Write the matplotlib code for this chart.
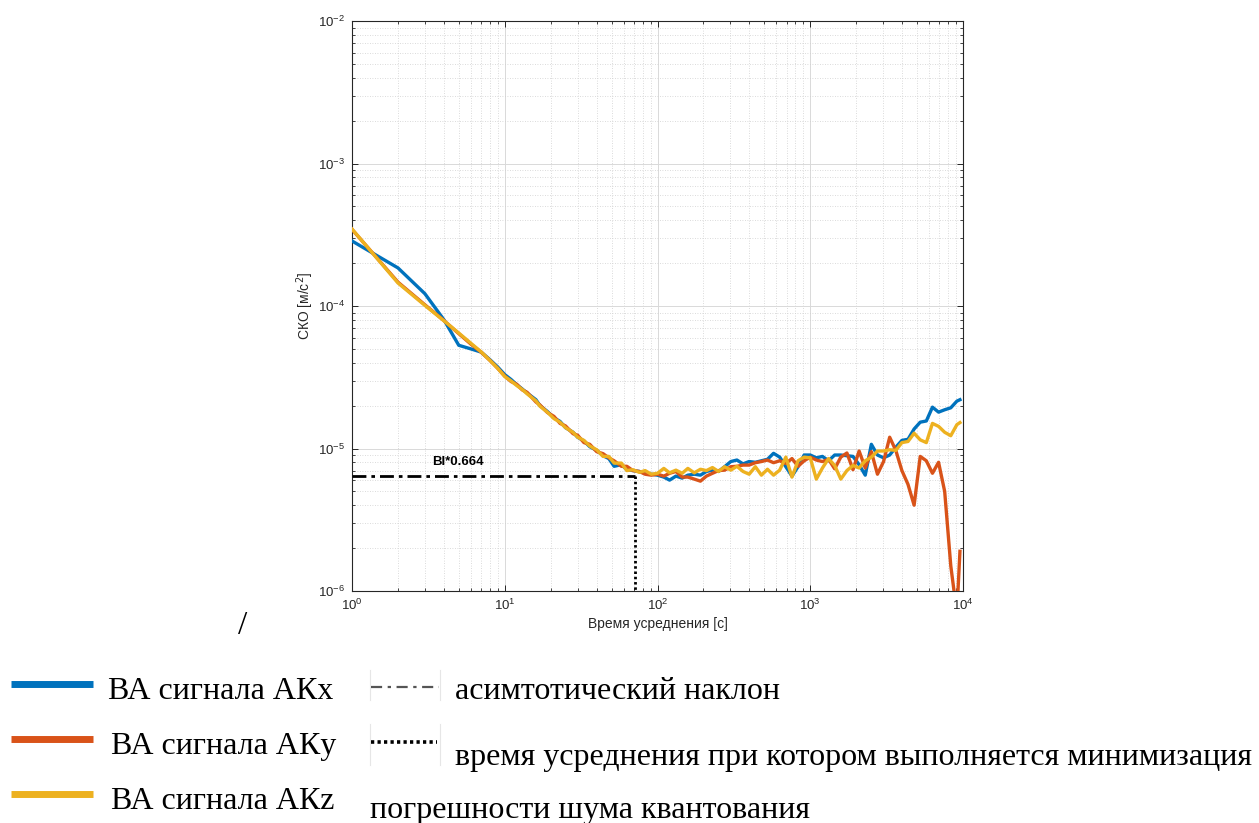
import matplotlib
matplotlib.use("Agg")
import matplotlib.pyplot as plt
from matplotlib.lines import Line2D
from matplotlib.ticker import LogLocator, NullFormatter

# averaging time, s
tau = [1, 2, 3, 4, 5, 6, 7, 8, 9,
       10, 11, 12, 13, 14, 16, 17, 19, 21, 23, 25, 28, 30, 33, 36, 40, 44, 48, 52, 58, 63, 69, 76, 83, 91,
       100, 110, 120, 132, 145, 158, 174, 191, 209, 229, 251, 275, 302, 331, 363, 398, 437, 479, 525, 575,
       631, 692, 759, 832, 912,
       1000, 1096, 1202, 1318, 1445, 1585, 1738, 1905, 2089, 2291, 2512, 2754, 3020, 3311, 3631, 3981,
       4365, 4786, 5248, 5754, 6310, 6918, 7586, 8318, 9120, 9550]

# Allan deviation, 1e-6 m/s^2
akx = [286, 185, 122, 80, 53, 50, 47.5, 42, 37.3,
       33, 30.5, 28, 26.2, 24.5, 22, 20, 18.2, 16.4, 15.5, 14, 13, 12, 11.3, 10.3, 9.7, 8.9, 8.5, 7.5, 7.7,
       7.1, 7.0, 6.9, 6.7, 6.6,
       6.5, 6.3, 6.0, 6.4, 6.2, 6.5, 6.6, 6.5, 6.9, 7.05, 6.9, 7.45, 8.1, 8.3, 7.8, 8.1, 8.0, 8.2, 8.4, 9.25,
       8.7, 7.45, 6.4, 7.45, 9.0,
       9.0, 8.6, 8.8, 8.2, 9.0, 9.0, 8.9, 8.8, 7.7, 6.5, 10.7, 9.0, 8.6, 9.0, 10.2, 11.4, 11.6, 13.7, 15.3,
       15.6, 19.5, 18.0, 18.7, 19.3, 21.5, 22.0]
aky = [345, 147, 102, 79, 64, 54, 47.5, 41.5, 36.5,
       32.2, 29.5, 28.2, 25.8, 24.8, 21.2, 20.2, 17.9, 16.8, 15.0, 14.4, 12.7, 12.4, 11.0, 10.7, 9.5, 9.2,
       8.6, 8.2, 7.5, 7.5, 7.0, 6.9, 6.6, 6.5,
       6.6, 6.4, 6.7, 6.9, 6.3, 6.3, 6.1, 5.9, 6.4, 6.7, 7.0, 7.05, 7.45, 7.5, 7.65, 7.65, 7.95, 8.1, 8.3,
       7.95, 8.2, 7.85, 8.5, 7.5, 8.2,
       8.7, 8.3, 8.1, 8.4, 7.2, 8.7, 9.3, 7.1, 9.6, 7.3, 9.5, 6.6, 8.1, 12.0, 9.7, 7.0, 5.6, 4.0, 8.8,
       8.2, 6.7, 8.0, 5.0, 1.5, 0.7, 1.9]
akz = [347, 145, 101, 78.7, 64.6, 54.8, 47.7, 41.5, 36.5,
       32, 29.8, 27.6, 26, 24.2, 21.6, 19.8, 18, 16.2, 15.3, 14, 13, 12, 11.4, 10.4, 9.8, 8.8, 8.8, 7.9,
       7.9, 7.0, 7.1, 6.8, 7.0, 6.6,
       6.7, 7.25, 6.75, 7.05, 6.7, 7.25, 6.75, 7.15, 7.0, 7.35, 6.9, 7.45, 7.05, 7.5, 6.9, 6.6, 7.45, 6.5,
       7.15, 6.5, 7.05, 8.7, 6.3, 8.2, 8.7,
       8.6, 6.1, 7.3, 8.5, 7.6, 6.1, 7.0, 7.6, 7.3, 8.2, 8.7, 9.6, 9.6, 9.8, 9.7, 11.0, 11.2, 12.8, 11.5,
       11.0, 15.0, 14.3, 13.0, 12.3, 14.7, 15.2]

bi_level = 6.4e-6     # bias instability level
tau_min = 71          # averaging time at the minimum
bi_text = "BI*0.664"

series_labels = ["ВА сигнала АКx", "ВА сигнала АКy", "ВА сигнала АКz"]
series_colors = ["#0072BD", "#D95319", "#EDB120"]
note_labels = ["асимтотический наклон",
               "время усреднения при котором выполняется минимизация",
               "погрешности шума квантования"]

W, H = 1259, 823
plt.rcParams['font.family'] = ['Liberation Sans', 'DejaVu Sans']
plt.rcParams['axes.unicode_minus'] = False
fig = plt.figure(figsize=(W / 100, H / 100), dpi=100)


def fx(x):
    return x / W


def fy(y):
    return 1 - y / H


ax = fig.add_axes([fx(352), fy(591), fx(963) - fx(352), fy(21) - fy(591)])

for vals, col in zip([akx, aky, akz], series_colors):
    ax.plot(tau, [v * 1e-6 for v in vals], color=col, lw=2.4, zorder=3)

ax.plot([1, tau_min], [bi_level, bi_level], color='black', lw=2.0, ls=(0, (5, 1.8, 1.3, 1.8)), zorder=4)
ax.plot([tau_min, tau_min], [bi_level, 1e-6], color='black', lw=2.0, ls=(0, (0.9, 1.0)), zorder=4)
ax.text(3.35, 8.1e-6, bi_text, fontsize=9.5, fontweight='bold', ha='left', va='center')

ax.set_xscale('log')
ax.set_yscale('log')
ax.set_xlim(1, 1e4)
ax.set_ylim(1e-6, 1e-2)
ax.xaxis.set_minor_locator(LogLocator(base=10, subs=range(2, 10), numticks=20))
ax.yaxis.set_minor_locator(LogLocator(base=10, subs=range(2, 10), numticks=20))
ax.xaxis.set_minor_formatter(NullFormatter())
ax.yaxis.set_minor_formatter(NullFormatter())

ax.grid(True, which='major', color='#d9d9d9', lw=0.7, ls='-')
ax.grid(True, which='minor', color='#cfcfcf', lw=0.6, ls=(0, (1, 2)))
ax.set_axisbelow(True)
ax.tick_params(which='both', direction='in', top=True, right=True, colors='#262626', labelsize=9.5)
ax.tick_params(which='major', length=4, width=0.7, pad=5)
ax.tick_params(which='minor', length=2.5, width=0.6)
for s in ax.spines.values():
    s.set_color('#262626')
    s.set_linewidth(0.8)

ax.set_xlabel("Время усреднения [с]", fontsize=10, color='#262626', labelpad=3)
ax.set_ylabel("СКО [м/с$^2$]", fontsize=10, color='#262626')
ax.yaxis.set_label_coords((316 - 352) / 611, 0.5)

# stray slash under the plot
fig.text(fx(243), fy(626), "/", fontsize=24, family='Liberation Serif', ha='center', va='center')

# hand-made legend below the chart
serif = ['Liberation Serif', 'DejaVu Serif']
for i, (lab, col) in enumerate(zip(series_labels, series_colors)):
    ly = 684 + i * 55
    fig.add_artist(Line2D([fx(11), fx(93)], [fy(ly), fy(ly)], color=col, lw=5,
                          solid_capstyle='butt'))
    fig.text(fx(108 if i == 0 else 111), fy(ly + 15), lab, fontsize=23, family=serif,
             ha='left', va='baseline')

for xx in (370, 440):
    fig.add_artist(Line2D([fx(xx), fx(xx)], [fy(670), fy(700)], color='#e6e6e6', lw=0.8))
    fig.add_artist(Line2D([fx(xx), fx(xx)], [fy(724), fy(765)], color='#e6e6e6', lw=0.8))
fig.add_artist(Line2D([fx(371), fx(439)], [fy(687), fy(687)], color='#555555', lw=1.6,
                      ls=(0, (5, 2.5, 1.5, 2.5))))
fig.add_artist(Line2D([fx(371), fx(437)], [fy(742), fy(742)], color='black', lw=2.6,
                      ls=(0, (0.9, 0.9))))

fig.text(fx(455), fy(699), note_labels[0], fontsize=23, family=serif, ha='left', va='baseline')
fig.text(fx(455), fy(765), note_labels[1], fontsize=23, family=serif, ha='left', va='baseline')
fig.text(fx(370), fy(818), note_labels[2], fontsize=23, family=serif, ha='left', va='baseline')

fig.savefig("out.png", dpi=100)
